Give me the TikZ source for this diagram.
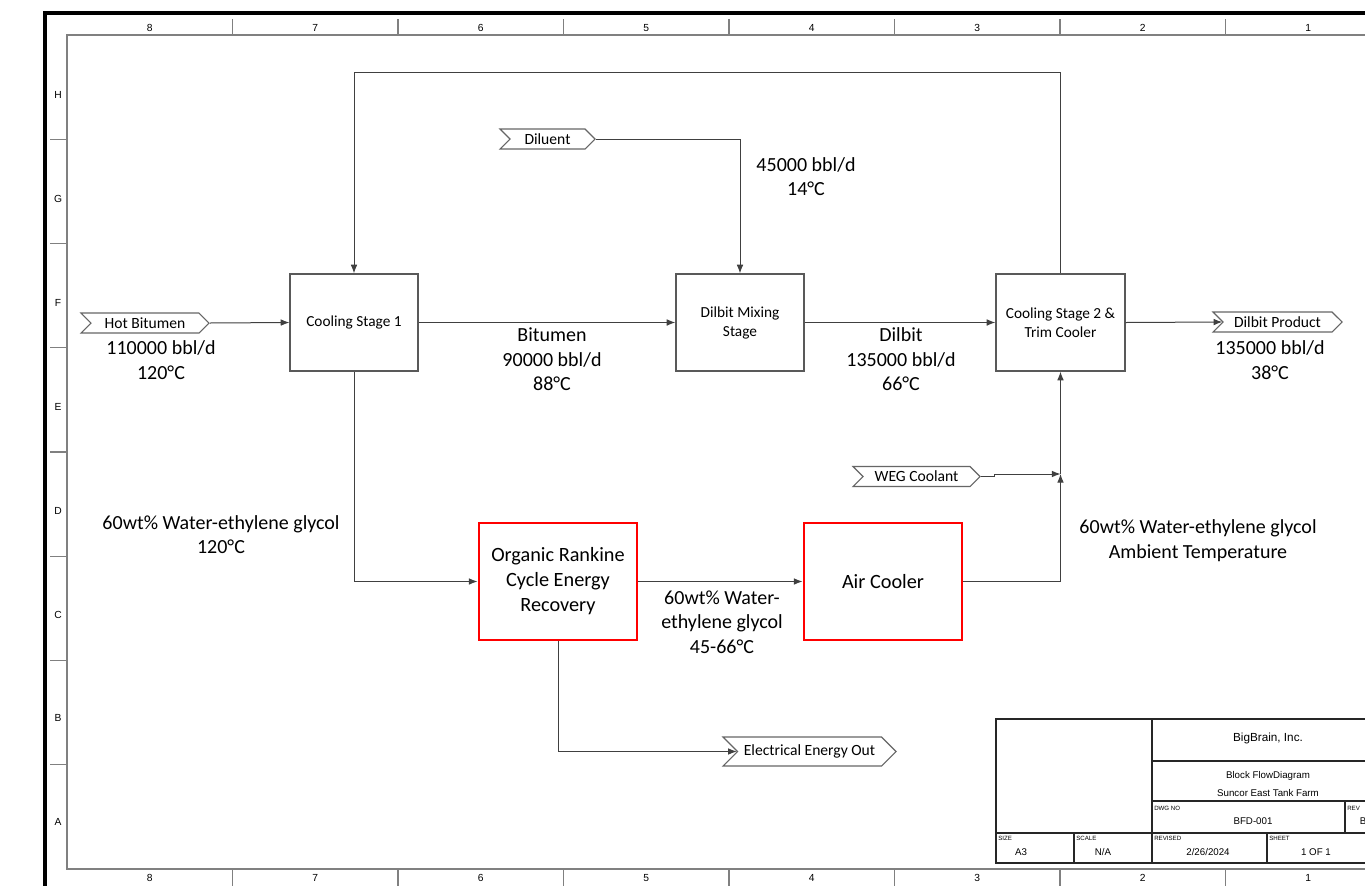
\documentclass[tikz,border=0pt]{standalone}
\usepackage{fontspec}
\setmainfont{Carlito}
\newfontfamily\arialfont{Liberation Sans}
\usetikzlibrary{arrows.meta,shapes.symbols}

\begin{document}
\begin{tikzpicture}[x=0.75pt,y=-0.75pt,
    frame/.style={draw=black!50,line width=1.1pt},
    tick/.style={font=\arialfont\fontsize{7.7}{9}\selectfont,inner sep=0pt},
    tb/.style={draw=black!85,line width=0.8pt},
    tbsmall/.style={font=\arialfont\fontsize{4.6}{5}\selectfont,anchor=west,inner sep=0pt},
    tbtext/.style={font=\arialfont\fontsize{7.3}{8}\selectfont,inner sep=0pt},
    block/.style={draw=black!65,line width=0.9pt,minimum width=96pt,minimum height=72.75pt,
      align=center,inner sep=1pt,font=\fontsize{11.5}{14.25}\selectfont},
    redblock/.style={draw=red,line width=2.2pt,minimum width=118.5pt,minimum height=87.75pt,
      align=center,inner sep=1pt,font=\fontsize{15.2}{18.75}\selectfont},
    offpage/.style={signal,signal from=west,signal to=east,draw=black!60,line width=0.8pt,
      minimum height=15pt,inner sep=1pt,font=\fontsize{11.7}{14}\selectfont},
    lbl/.style={align=center,inner sep=0pt,font=\fontsize{15}{18.4}\selectfont},
    flow/.style={draw=black!75,line width=0.75pt,-{Latex[length=6.5pt,width=5pt]}},
  ]

  % page
  \useasboundingbox (0,0) rectangle (1365,886);
  \clip (0,0) rectangle (1365,886);
  \fill[white] (0,0) rectangle (1365,886);

  % drawing frame
  \draw[line width=3pt] (45,13) rectangle (1440,940);
  \draw[frame] (67,35) rectangle (1391,869);
  \foreach \k in {1,...,7} {
    \draw[frame] ({67+165.5*\k},19) -- ({67+165.5*\k},35);
    \draw[frame] ({67+165.5*\k},869) -- ({67+165.5*\k},886);
    \draw[frame] (50,{35+104.25*\k}) -- (67,{35+104.25*\k});
  }
  \foreach \c [count=\k from 0] in {8,7,...,1} {
    \node[tick] (ct\c) at ({149.75+165.5*\k},28) {\c};
    \node[tick] (cb\c) at ({149.75+165.5*\k},878) {\c};
  }
  \foreach \r [count=\k from 0] in {H,G,F,E,D,C,B,A}
    \node[tick] (r\r) at (58,{95+103.9*\k}) {\r};

  % process blocks
  \node[block] (cs1) at (354,322.5) {Cooling Stage 1};
  \node[block] (mix) at (740,322.5) {Dilbit Mixing\\Stage};
  \node[block,minimum width=96.75pt] (cs2) at (1060.5,322.5) {Cooling Stage 2 \&\\Trim Cooler};
  \node[redblock] (orc) at (558,581.5) {Organic Rankine\\Cycle Energy\\Recovery};
  \node[redblock] (air) at (883,581.5) {Air Cooler};

  % off-page connectors
  \node[offpage,minimum width=96pt] (hot) at (145,323) {Hot Bitumen};
  \node[offpage,minimum width=71.25pt] (dil) at (547.5,139) {Diluent};
  \node[offpage,minimum width=95.25pt] (weg) at (916.5,476.5) {WEG Coolant};
  \node[offpage,minimum width=96.75pt] (prod) at (1277.5,322) {Dilbit Product};
  \node[offpage,minimum width=129.75pt,minimum height=21.75pt] (elec) at (809.5,751.5) {Electrical Energy Out};

  % stream data
  \node[lbl] (hotlbl) at (161,360) {110000 bbl/d\\120°C};
  \node[lbl] (bitlbl) at (552,359.5) {Bitumen\\90000 bbl/d\\88°C};
  \node[lbl] (dillbl) at (901,359.5) {Dilbit\\135000 bbl/d\\66°C};
  \node[lbl] (prodlbl) at (1270,360) {135000 bbl/d\\38°C};
  \node[lbl] (diluentlbl) at (806,176.5) {45000 bbl/d\\14°C};
  \node[lbl] (wegin) at (221,534.5) {60wt\% Water-ethylene glycol\\120°C};
  \node[lbl] (wegamb) at (1198,540.5) {60wt\% Water-ethylene glycol\\Ambient Temperature};
  \node[lbl] (weghot) at (722,622) {60wt\% Water-\\ethylene glycol\\45-66°C};

  % streams
  \coordinate (loop) at (354,72);
  \coordinate (jn) at (1060.5,474);
  \draw[flow] (hot.east) -- (cs1.west);
  \draw[flow] (cs1.east) -- (mix.west);
  \draw[flow] (dil.east) -| (mix.north);
  \draw[flow] (mix.east) -- (cs2.west);
  \draw[flow] (cs2.east) -- (prod.west);
  \draw[flow] (cs2.north) |- (loop) -- (cs1.north);
  \draw[flow] (cs1.south) |- (orc.west);
  \draw[flow] (orc.east) -- (air.west);
  \draw[flow] (air.east) -| (jn);
  \draw[flow] (weg.east) -- ++(14,0) |- (jn);
  \draw[flow] (jn) -- (cs2.south);
  \draw[flow] (orc.south) |- (elec.west);

  % title block
  \draw[tb] (996,719) rectangle (1384,863);
  \draw[tb] (1152,719) -- (1152,863);
  \draw[tb] (1152,761) -- (1384,761);
  \draw[tb] (1152,801) -- (1384,801);
  \draw[tb] (996,833) -- (1384,833);
  \draw[tb] (1074,833) -- (1074,863);
  \draw[tb] (1267,833) -- (1267,863);
  \draw[tb] (1345,801) -- (1345,833);
  \node[tbtext,font=\arialfont\fontsize{8.8}{10}\selectfont] (company) at (1268,738) {BigBrain, Inc.};
  \node[tbtext] (title) at (1268,776) {Block FlowDiagram};
  \node[tbtext] (site) at (1268,793) {Suncor East Tank Farm};
  \node[tbsmall] (dwglbl) at (1154,808) {DWG NO};
  \node[tbtext] (dwg) at (1253,821) {BFD-001};
  \node[tbsmall] (revlbl) at (1347,808) {REV};
  \node[tbtext] (rev) at (1363,821) {B};
  \node[tbsmall] (sizelbl) at (998,838) {SIZE};
  \node[tbtext] (size) at (1021,852) {A3};
  \node[tbsmall] (scalelbl) at (1076,838) {SCALE};
  \node[tbtext] (scale) at (1103,852) {N/A};
  \node[tbsmall] (revdlbl) at (1154,838) {REVISED};
  \node[tbtext] (revd) at (1208,852) {2/26/2024};
  \node[tbsmall] (sheetlbl) at (1269,838) {SHEET};
  \node[tbtext] (sheet) at (1316,852) {1 OF 1};

\end{tikzpicture}
\end{document}
